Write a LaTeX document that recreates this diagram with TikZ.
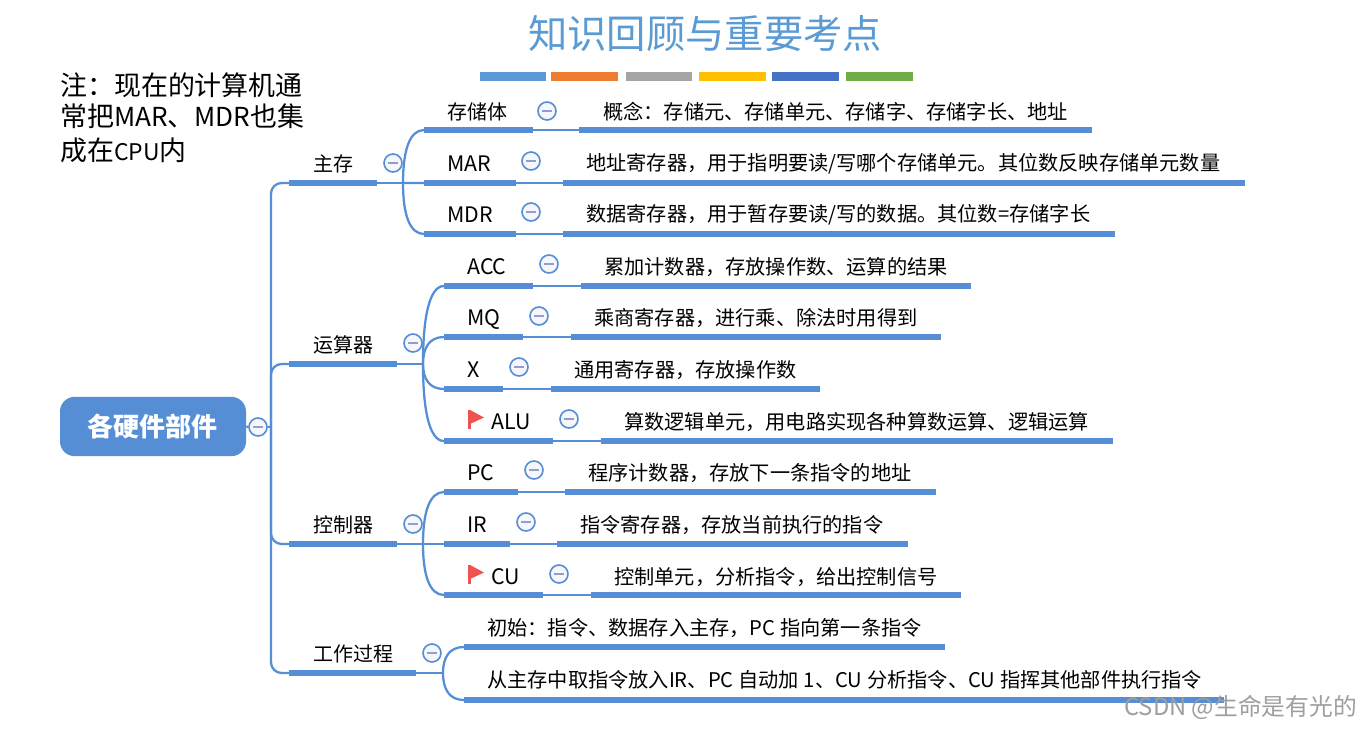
\documentclass[tikz,border=0pt]{standalone}
\usepackage{fontspec}
\setmainfont{Noto Sans CJK SC}
\usetikzlibrary{calc}
\definecolor{mapblue}{HTML}{558ED5}
\definecolor{titleblue}{HTML}{5B9BD5}
\definecolor{minusfill}{HTML}{F6F6FB}
\definecolor{minusbar}{HTML}{8E9FD2}
\definecolor{flagred}{HTML}{EF5350}
\definecolor{wmgray}{HTML}{9E9E9E}
\newcommand{\lat}{\fontsize{16}{18}\selectfont}
\newcommand{\gp}{\hspace{3.6pt}}
\tikzset{
  x=0.75pt,y=-0.75pt,
  thinline/.style={draw=mapblue,line width=1.7pt},
  barnode/.style={fill=mapblue,inner sep=0pt,outer sep=0pt,minimum height=4.6pt},
  lab/.style={anchor=west,inner sep=0pt,text=black,font=\fontsize{15}{18}\selectfont},
  desc/.style={anchor=west,inner sep=0pt,text=black,font=\fontsize{15.15}{18}\selectfont},
  minusc/.style={circle,draw=mapblue,line width=1.2pt,fill=minusfill,inner sep=0pt,minimum size=13.5pt,
    path picture={\draw[minusbar,line width=1.2pt] ([xshift=-3.6pt]path picture bounding box.center) -- ([xshift=3.6pt]path picture bounding box.center);}},
  swatch/.style={inner sep=0pt,outer sep=0pt,minimum width=50pt,minimum height=6.5pt},
  notetext/.style={anchor=west,inner sep=0pt,text=black,font=\fontsize{20.2}{24}\selectfont},
}
\begin{document}
\begin{tikzpicture}
\useasboundingbox[fill=white] (0,0) rectangle (1370,728);
% title and colour strip
\node[inner sep=0pt,text=titleblue,font=\fontsize{29.5}{34}\selectfont] (title) at (705,34) {知识回顾与重要考点};
\foreach \n/\x/\c in {s1/513/5B9BD5,s2/584.5/ED7D31,s3/659/A5A5A5,s4/732.5/FFC000,s5/805.5/4472C4,s6/879.5/70AD47}{
  \definecolor{swc}{HTML}{\c}
  \node[swatch,fill=swc] (\n) at (\x,76.5) {};
}
% note
\node[notetext] (n1) at (60,85) {注：现在的计算机通};
\node[notetext] (n2) at (60,116) {常把{\fontsize{19.6}{24}\selectfont MAR}、{\fontsize{19.6}{24}\selectfont MDR}也集};
\node[notetext] (n3) at (60,150) {成在{\fontsize{17.2}{24}\selectfont CPU}内};
% root
\node[fill=mapblue,rounded corners=11pt,minimum width=139.5pt,minimum height=44.5pt,inner sep=0pt,text=white,
      font=\fontsize{19.5}{24}\selectfont\bfseries] (root) at (153,426.5) {\hspace{-1.5pt}各硬件部件};
\node[minusc] (c0) at (258,427) {};
\coordinate (trunk) at (271,427);
\draw[thinline] (root.east) -- (c0.west);
\draw[thinline] (c0.east) -- (trunk);
% first level: id / label / label y / circle x / circle y / bar start / bar end / bar y / junction x
\foreach \i/\t/\ly/\cx/\cy/\ax/\bx/\by/\jx in {
  m/主存/164/393/163/289/377/183/403,
  a/运算器/345/413/343/289/397/364/423,
  k/控制器/525/413/524/289/397/544/423,
  g/工作过程/654/432/653/289/416/673/443}{
  \node[lab] (l\i) at (313,\ly) {\t};
  \node[minusc] (c\i) at (\cx,\cy) {};
  \node[barnode,minimum width={(\bx-\ax)*0.75}] (b\i) at ({(\ax+\bx)/2},\by) {};
  \coordinate (j\i) at (\jx,\by);
  \draw[thinline,rounded corners=8pt] (b\i.west) -| (trunk);
  \draw[thinline] (b\i.east) -- (j\i);
}
% second level with description: id / parent / label x / label y / label / circle x / circle y / bar1 start / bar1 end / bar y / bar2 start / bar2 end / text x / text
\foreach \i/\p/\lx/\ly/\t/\cx/\cy/\ax/\bx/\by/\dx/\ex/\tx/\d in {
  r1/m/447/112/存储体/547/111/424/533/130/579/1092/603/{概念：存储元、存储单元、存储字、存储字长、地址},
  r2/m/447/164/{\lat MAR}/531/161/424/516/183/563/1245/586/{地址寄存器，用于指明要读/写哪个存储单元。其位数反映存储单元数量},
  r3/m/447/215/{\lat MDR}/531/212/424/516/234/563/1115/586/{数据寄存器，用于暂存要读/写的数据。其位数=存储字长},
  r4/a/467/267/{\lat ACC}/549/264/444/533/286/581/971/604/{累加计数器，存放操作数、运算的结果},
  r5/a/467/318/{\lat\raisebox{0pt}[\height][0pt]{MQ}}/539/316/444/523/337/571/941/594/{乘商寄存器，进行乘、除法时用得到},
  r6/a/467/370/{\lat X}/519/367/444/503/389/551/820/574/{通用寄存器，存放操作数},
  r7/a/491/422/{\lat ALU}/569/419/444/553/441/601/1113/624/{算数逻辑单元，用电路实现各种算数运算、逻辑运算},
  r8/k/467/473/{\lat PC}/534/470/444/518/492/565/936/588/{程序计数器，存放下一条指令的地址},
  r9/k/467/525/{\lat IR}/526/522/444/510/544/557/908/580/{指令寄存器，存放当前执行的指令},
  r10/k/491/577/{\lat CU}/559/574/444/543/595/591/961/614/{控制单元，分析指令，给出控制信号}}{
  \node[lab] (l\i) at (\lx,\ly) {\t};
  \node[minusc] (c\i) at (\cx,\cy) {};
  \node[barnode,minimum width={(\bx-\ax)*0.75}] (b\i) at ({(\ax+\bx)/2},\by) {};
  \node[barnode,minimum width={(\ex-\dx)*0.75}] (d\i) at ({(\dx+\ex)/2},\by) {};
  \node[desc] (t\i) at (\tx,\ly) {\d};
  \draw[thinline] (b\i.east) -- (d\i.west);
  \draw[thinline] (j\p) .. controls ($(j\p)!0.6!(j\p |- b\i.west)$) and ($(j\p |- b\i.west)!0.3!(b\i.west)$) .. (b\i.west);
}
% work process rows
\foreach \i/\ly/\ex/\by/\d in {
  r11/628/945/647/{初始：指令、数据存入主存，PC\gp 指向第一条指令},
  r12/680/1224/700/{从主存中取指令放入IR、PC\gp 自动加\gp 1、CU\gp 分析指令、CU\gp 指挥其他部件执行指令}}{
  \node[barnode,minimum width={(\ex-464)*0.75}] (b\i) at ({(464+\ex)/2},\by) {};
  \node[desc] (t\i) at (487,\ly) {\d};
  \draw[thinline] (jg) .. controls ($(jg)!0.6!(jg |- b\i.west)$) and ($(jg |- b\i.west)!0.3!(b\i.west)$) .. (b\i.west);
}
% flags
\foreach \y in {410,565}{
  \fill[flagred] (468,\y) rectangle (470.5,\y+19);
  \fill[flagred] (470,\y) -- (484,\y+7.5) -- (470,\y+14) -- cycle;
}
% watermark
\node[anchor=east,inner sep=0pt,text=wmgray,font=\fontsize{17.8}{20}\selectfont] (wm) at (1357,707) {CSDN @生命是有光的};
\end{tikzpicture}
\end{document}
